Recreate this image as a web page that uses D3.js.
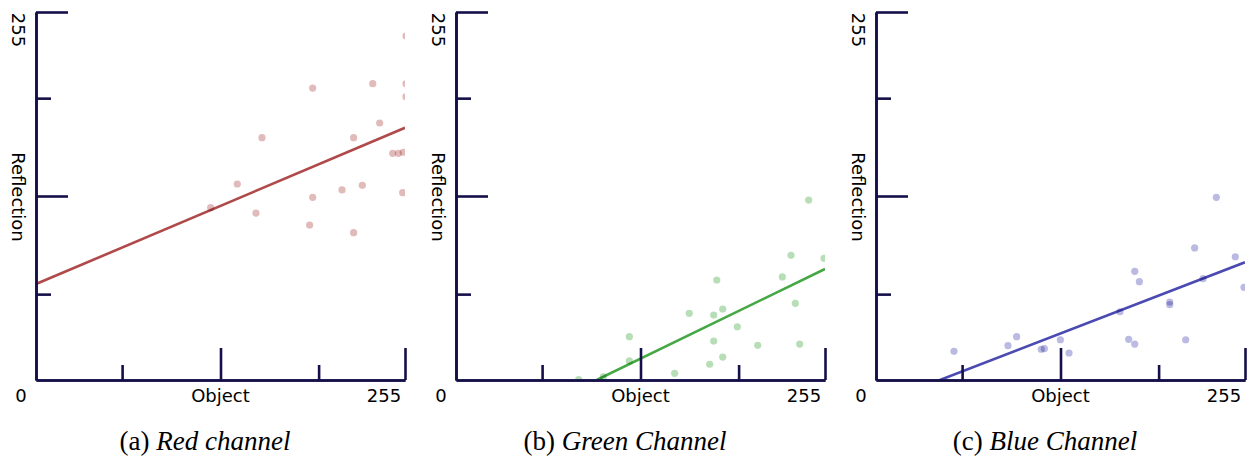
<!DOCTYPE html>
<html>
<head>
<meta charset="utf-8">
<script src="https://cdn.jsdelivr.net/npm/d3@7"></script>
<style>
  html, body { margin: 0; padding: 0; background: #fff; }
  svg { display: block; }
</style>
</head>
<body>
<svg id="chart" width="1249" height="460"></svg>
<script>
// ---- data ----
const panelLetters = ["(a) ", "(b) ", "(c) "];
const panelTitles = ["Red channel", "Green Channel", "Blue Channel"];
const xTitle = "Object";
const yTitle = "Reflection";
const axisMin = 0;
const axisMax = 255;
const majorTicks = [127.5, 255];
const minorTicks = [59.5, 195.3];

const redX = [255.7, 191.2, 232.7, 255.7, 255.7, 237.5, 156.2, 219.5, 246.5, 250.4, 253.8, 139.1, 225.5, 211.5, 191.2, 253.4, 120.7, 152.0, 189.1, 219.5];
const redY = [238.4, 202.3, 205.3, 205.3, 196.3, 178.1, 167.9, 167.9, 157.1, 157.1, 157.8, 135.8, 134.9, 131.7, 126.6, 129.8, 119.4, 115.7, 107.4, 102.1];
const redFit = [[0, 66.5], [255, 174.8]];

const greenX = [243.7, 231.5, 254.3, 180.2, 225.5, 234.5, 161.2, 178.1, 184.3, 194.4, 119.8, 178.1, 208.5, 237.5, 119.8, 184.3, 175.3, 151.1, 84.8, 101.8];
const greenY = [124.7, 86.4, 84.3, 69.3, 71.4, 53.1, 46.2, 45.0, 49.2, 36.9, 30.0, 27.0, 24.0, 24.9, 13.2, 15.9, 10.9, 4.6, 0.3, 2.3];
const greenFit = [[97.2, 0], [255, 76.9]];

const blueX = [235.2, 220.2, 248.3, 178.8, 182.0, 226.0, 254.3, 203.0, 203.0, 168.6, 174.6, 178.8, 214.0, 97.2, 91.2, 127.4, 114.2, 116.3, 133.4, 53.9];
const blueY = [126.6, 91.5, 85.4, 75.3, 68.1, 70.2, 64.2, 54.0, 52.2, 47.3, 28.2, 24.9, 27.9, 30.0, 23.8, 27.9, 21.3, 21.7, 18.7, 19.9];
const blueFit = [[44.2, 0], [255, 81.6]];

const lineColors = ["#b04a4a", "#45a845", "#4a4ab2"];

// ---- layout ----
const svg = d3.select("#chart");
svg.append("rect").attr("width", 1249).attr("height", 460).attr("fill", "#fff");

const panelW = 420;
const mLeft = 36, mRight = 405, mTop = 12, mBottom = 380;
const axisColor = "#15104a";

const series = [
  { xs: redX, ys: redY, fit: redFit },
  { xs: greenX, ys: greenY, fit: greenFit },
  { xs: blueX, ys: blueY, fit: blueFit }
];

series.forEach((s, i) => {
  const g = svg.append("g").attr("transform", `translate(${i * panelW},0)`);
  const x = d3.scaleLinear().domain([axisMin, axisMax]).range([mLeft, mRight]);
  const y = d3.scaleLinear().domain([axisMin, axisMax]).range([mBottom, mTop]);

  const clipId = "clip" + i;
  g.append("clipPath").attr("id", clipId)
    .append("rect").attr("x", mLeft).attr("y", mTop)
    .attr("width", mRight - mLeft).attr("height", mBottom - mTop);

  const plot = g.append("g").attr("clip-path", `url(#${clipId})`);

  plot.append("path")
    .datum(s.fit)
    .attr("d", d3.line().x(d => x(d[0])).y(d => y(d[1])))
    .attr("fill", "none")
    .attr("stroke", lineColors[i])
    .attr("stroke-width", 2.6);

  plot.selectAll("circle")
    .data(s.xs.map((v, k) => [v, s.ys[k]]))
    .join("circle")
    .attr("cx", d => x(d[0]))
    .attr("cy", d => y(d[1]))
    .attr("r", 3.6)
    .attr("fill", lineColors[i])
    .attr("fill-opacity", 0.38)
    .style("mix-blend-mode", "multiply");

  const styleAxis = sel => {
    sel.selectAll("path, line").attr("stroke", axisColor).attr("stroke-width", 2.6);
    sel.selectAll("text").remove();
  };
  g.append("g").attr("transform", `translate(${mLeft},0)`)
    .call(d3.axisLeft(y).tickValues(majorTicks).tickSizeInner(-32).tickSizeOuter(0).tickFormat(""))
    .call(styleAxis);
  g.append("g").attr("transform", `translate(${mLeft},0)`)
    .call(d3.axisLeft(y).tickValues(minorTicks).tickSizeInner(-15).tickSizeOuter(0).tickFormat(""))
    .call(styleAxis);
  g.append("g").attr("transform", `translate(0,${mBottom})`)
    .call(d3.axisBottom(x).tickValues(majorTicks).tickSizeInner(-32).tickSizeOuter(0).tickFormat(""))
    .call(styleAxis);
  g.append("g").attr("transform", `translate(0,${mBottom})`)
    .call(d3.axisBottom(x).tickValues(minorTicks).tickSizeInner(-15).tickSizeOuter(0).tickFormat(""))
    .call(styleAxis);

  const addText = (txt, tx, ty, rot) => {
    const t = g.append("text").text(txt)
      .attr("text-anchor", "middle")
      .attr("font-family", "DejaVu Sans, sans-serif")
      .attr("font-size", "18px")
      .attr("fill", "#000")
      .attr("transform", `translate(${tx},${ty})` + (rot ? ` rotate(${rot})` : ""));
    if (rot) t.attr("dominant-baseline", "central");
    return t;
  };
  addText(String(axisMin), 21, 402);
  addText(xTitle, x(127.5), 402);
  addText(String(axisMax), 384, 402);
  addText(String(axisMax), 18, 30, 90);
  addText(yTitle, 18, 197, 90);

  const cap = g.append("text")
    .attr("x", 205).attr("y", 450)
    .attr("text-anchor", "middle")
    .attr("font-family", "Liberation Serif, Times New Roman, serif")
    .attr("font-size", "27px")
    .attr("fill", "#000");
  cap.append("tspan").text(panelLetters[i]);
  cap.append("tspan").attr("font-style", "italic").text(panelTitles[i]);
});
</script>
</body>
</html>
